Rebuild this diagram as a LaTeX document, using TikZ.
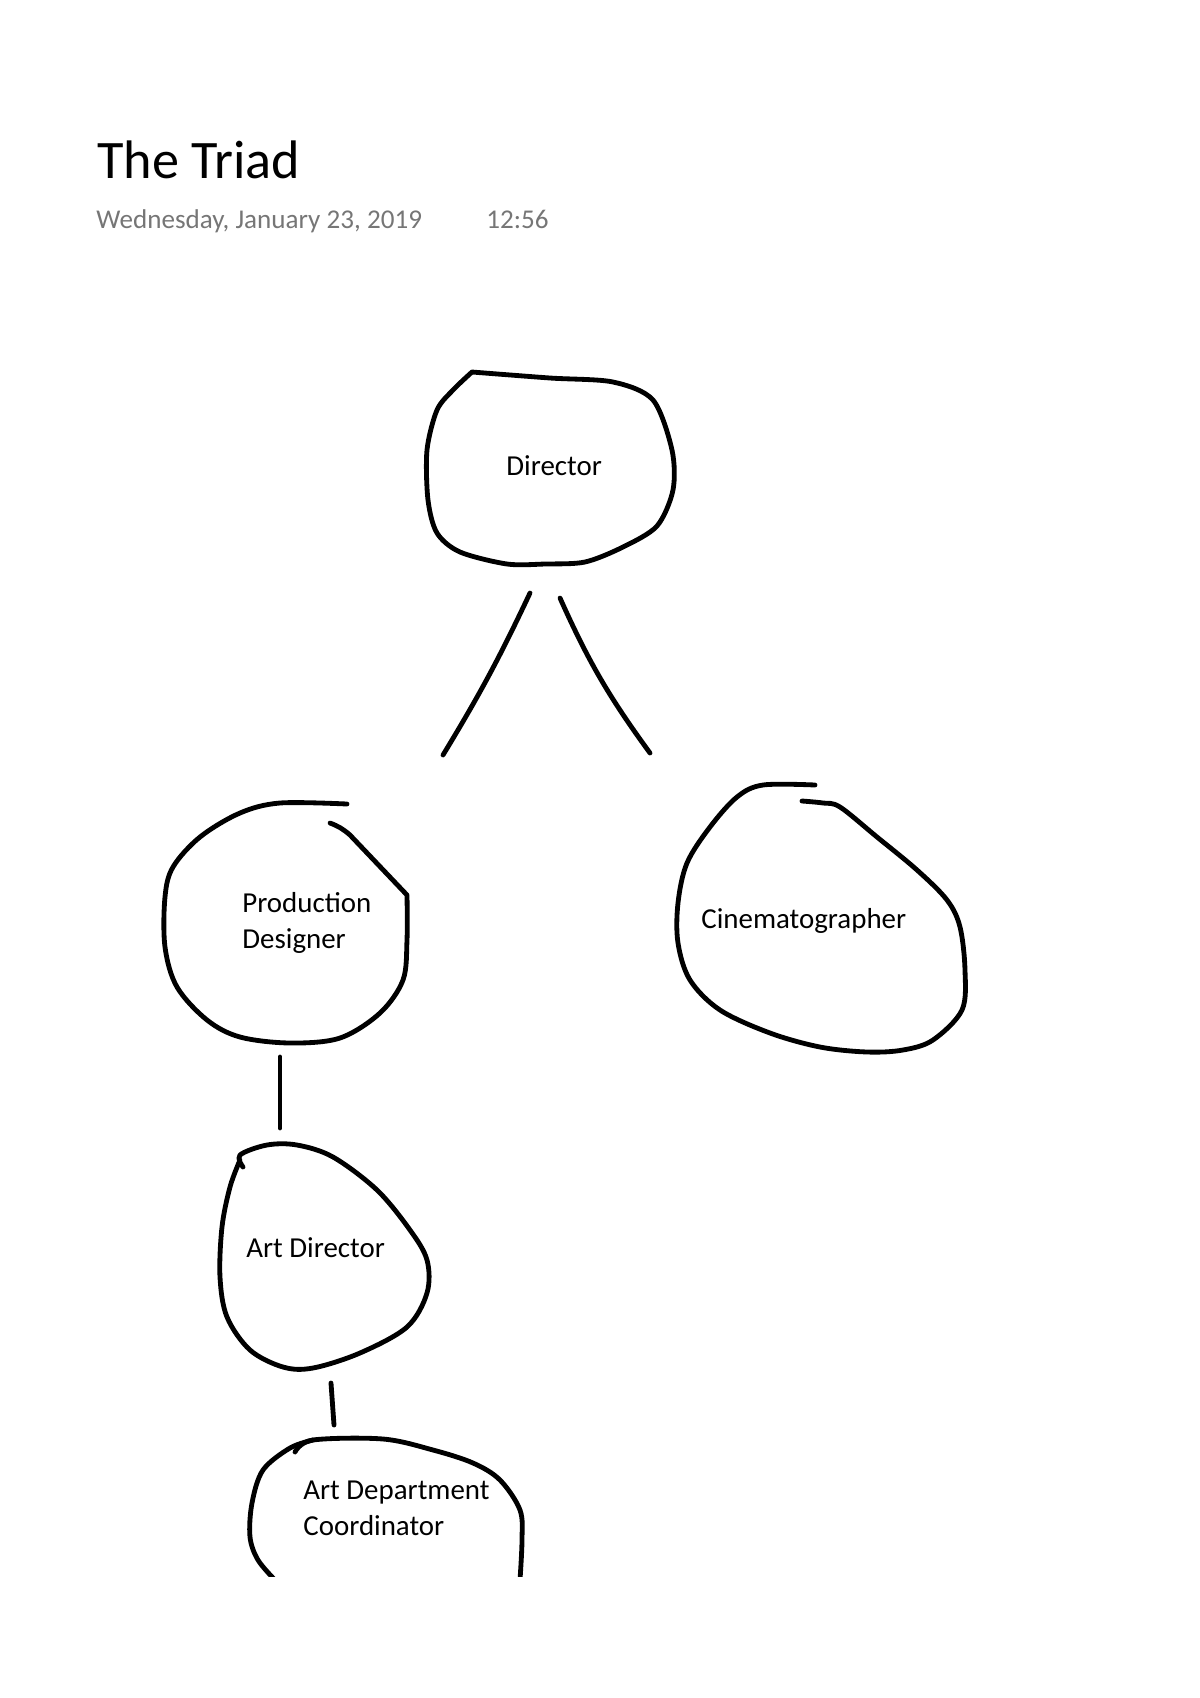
\documentclass[tikz,border=0pt]{standalone}
\usepackage{fontspec}
\setmainfont{Carlito}
\definecolor{stamp}{HTML}{767676}

\begin{document}
\begin{tikzpicture}[x=0.0175cm,y=-0.0175cm,
    role/.style={anchor=base west,inner sep=0pt,align=left,
        font=\fontsize{14.4}{17.9}\selectfont},
    blob/.style={line width=2.4pt,line cap=round,line join=round},
    link/.style={line width=2.4pt,line cap=round}]
    \useasboundingbox (0,0) rectangle (1200,1698);

    \node[anchor=base west,inner sep=0pt,font=\fontsize{27}{31}\selectfont] (title) at (97,178) {The Triad};
    \node[anchor=base west,inner sep=0pt,text=stamp,font=\fontsize{13.5}{16}\selectfont] (date) at (96,228) {Wednesday, January 23, 2019};
    \node[anchor=base west,inner sep=0pt,text=stamp,font=\fontsize{13.5}{16}\selectfont] (time) at (486,228) {12:56};

    % base of a two line node is its last line
    \node[role] (dir) at (506,475) {Director};
    \node[role] (pd) at (242,948) {Production\\Designer};
    \node[role] (cin) at (701,928) {Cinematographer};
    \node[role] (ad) at (246,1257) {Art Director};
    \node[role] (adc) at (303,1535) {Art Department\\Coordinator};

    % hand drawn outlines
    \draw[blob] plot[smooth,tension=0.5] coordinates {(472,372) (550,378) (613,382) (653,400) (672,450)
        (673,490) (657,526) (623,547) (585,562) (545,564) (507,564) (460,552) (437,533) (428,500) (427,450)
        (437,410) (453,390) (472,372)};
    \draw[blob] plot[smooth,tension=0.55] coordinates {(347,804) (280,803) (240,813) (200,837) (173,867) (165,897)
        (165,947) (177,987) (207,1020) (240,1037) (290,1043) (340,1038) (380,1013) (403,980) (407,940) (407,895)}
        -- (350,835) to[bend right=10] (330,823);
    \draw[blob] plot[smooth,tension=0.55] coordinates {(815,785) (763,785) (737,797) (710,827) (687,863) (678,903)
        (678,943) (690,980) (720,1010) (770,1033) (820,1047) (867,1052) (903,1050) (933,1040) (962,1010) (965,970)
        (960,927) (947,900) (917,870) (877,837) (840,807) (823,803) (802,801)};
    \draw[blob] plot[smooth,tension=0.55] coordinates {(243,1167) (240,1155) (267,1145) (297,1145) (333,1157)
        (377,1190) (410,1230) (427,1260) (427,1293) (407,1327) (360,1353) (313,1368) (283,1367) (250,1350)
        (227,1317) (220,1277) (222,1227) (230,1187) (240,1160)};
    \begin{scope}
        \clip (0,0) rectangle (1200,1576);
        \draw[blob] plot[smooth,tension=0.55] coordinates {(295,1452) (313,1440) (383,1439) (433,1450) (473,1463)
            (500,1480) (520,1510) (522,1540) (520,1580)};
        \draw[blob] plot[smooth,tension=0.55] coordinates {(313,1440) (290,1448) (263,1470) (252,1503) (250,1537)
            (258,1560) (275,1580)};
    \end{scope}

    % strokes between roles
    \coordinate (d1) at (530,593);
    \coordinate (p1) at (443,755);
    \coordinate (d2) at (560,598);
    \coordinate (c1) at (650,753);
    \coordinate (p2) at (280,1057);
    \coordinate (a1) at (280,1128);
    \coordinate (a2) at (331,1383);
    \coordinate (k1) at (334,1425);
    \draw[link] (d1) to[bend left=3] (p1);
    \draw[link] (d2) to[bend right=6] (c1);
    \draw[link] (p2) -- (a1);
    \draw[link] (a2) -- (k1);
\end{tikzpicture}
\end{document}
